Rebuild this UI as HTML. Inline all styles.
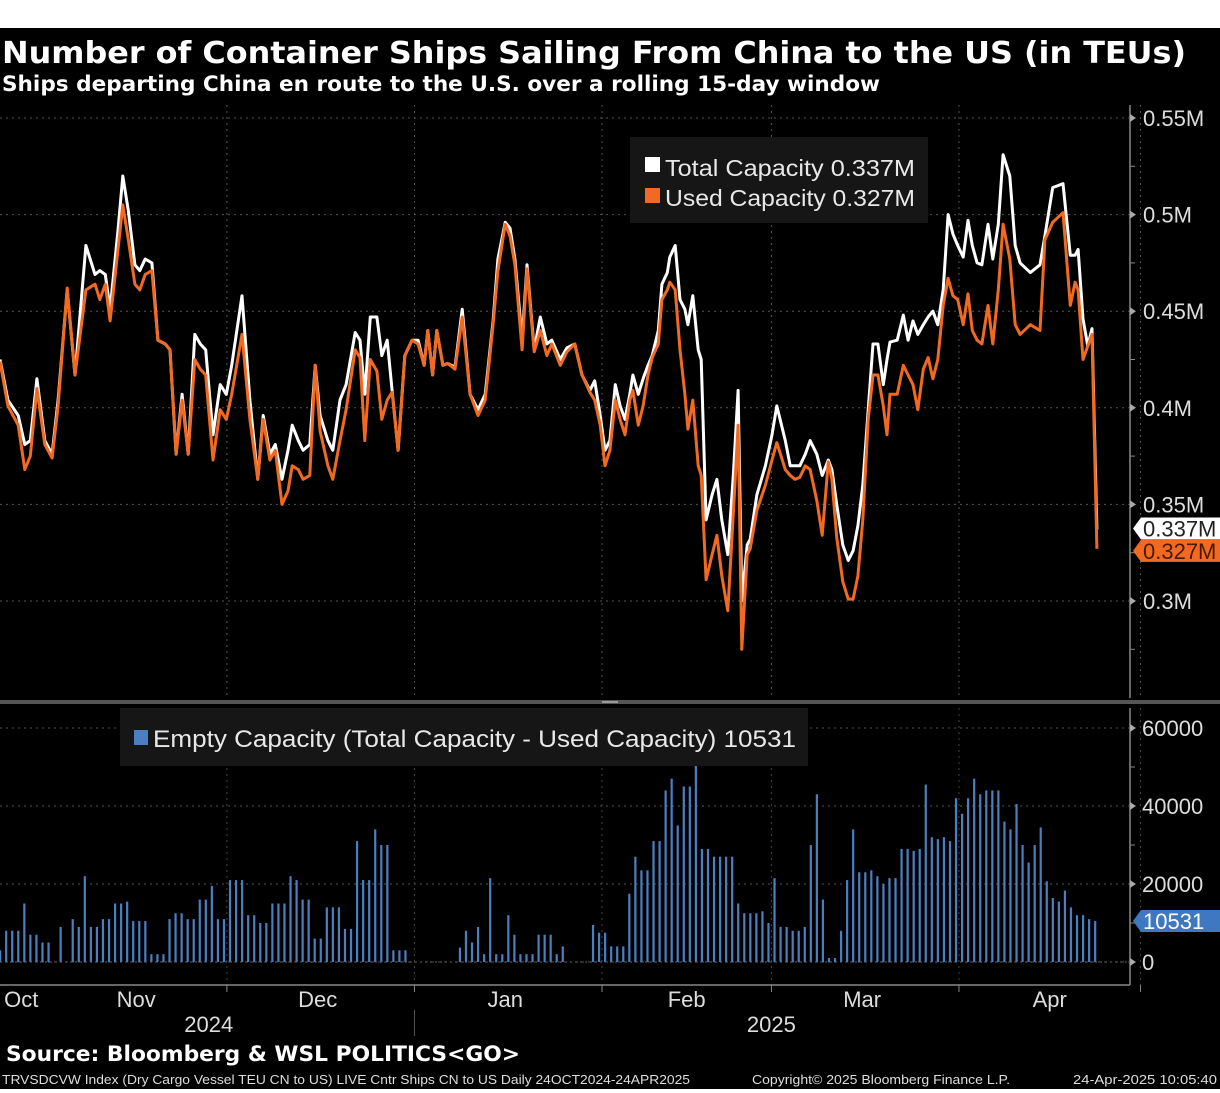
<!DOCTYPE html>
<html><head><meta charset="utf-8"><style>
html,body{margin:0;padding:0;background:#fff;}
svg{display:block;}
text{font-family:"Liberation Sans",sans-serif;}
.dv{font-family:"DejaVu Sans","Liberation Sans",sans-serif;}
</style></head><body>
<svg id="chart" width="1220" height="1093" xmlns="http://www.w3.org/2000/svg">
<rect x="0" y="0" width="1220" height="1093" fill="#fff"/>
<rect x="0" y="28" width="1220" height="1061" fill="#000"/>
<text class="dv" x="2" y="63" fill="#fff" font-size="30" font-weight="bold" textLength="1184" lengthAdjust="spacingAndGlyphs">Number of Container Ships Sailing From China to the US (in TEUs)</text>
<text class="dv" x="2" y="91" fill="#fff" font-size="21" font-weight="bold" textLength="878" lengthAdjust="spacingAndGlyphs">Ships departing China en route to the U.S. over a rolling 15-day window</text>
<g id="grid"></g>
<g id="bars"></g>
<g id="lines"></g>
<g id="axes"></g>
<rect x="630" y="137" width="298" height="86" fill="#161616"/>
<rect x="645" y="157" width="15" height="15" fill="#fff"/>
<text x="665" y="176" fill="#e8e8e8" font-size="23" textLength="250" lengthAdjust="spacingAndGlyphs">Total Capacity 0.337M</text>
<rect x="645" y="188" width="15" height="15" fill="#f26a21"/>
<text x="665" y="206" fill="#e8e8e8" font-size="23" textLength="250" lengthAdjust="spacingAndGlyphs">Used Capacity 0.327M</text>
<rect x="120" y="708" width="688" height="58" fill="#161616"/>
<rect x="134" y="730" width="14" height="15" fill="#4a7fc1"/>
<text x="153" y="747" fill="#e8e8e8" font-size="24" textLength="643" lengthAdjust="spacingAndGlyphs">Empty Capacity (Total Capacity - Used Capacity) 10531</text>
<text class="dv" x="6" y="1061" fill="#fff" font-size="21" font-weight="bold" textLength="514" lengthAdjust="spacingAndGlyphs">Source: Bloomberg &amp; WSL POLITICS&lt;GO&gt;</text>
<text x="2" y="1084" fill="#ddd" font-size="13" textLength="688" lengthAdjust="spacingAndGlyphs">TRVSDCVW Index (Dry Cargo Vessel TEU CN to US) LIVE Cntr Ships CN to US  Daily 24OCT2024-24APR2025</text>
<text x="752" y="1084" fill="#ddd" font-size="13" textLength="258" lengthAdjust="spacingAndGlyphs">Copyright© 2025 Bloomberg Finance L.P.</text>
<text x="1073" y="1084" fill="#ddd" font-size="13" textLength="144" lengthAdjust="spacingAndGlyphs">24-Apr-2025 10:05:40</text>
</svg>
<script>
// Day offsets from 24 Oct 2024
const lineDays=[0.5,1.8,3.5,4.6,5.5,6.6,7.9,9.1,10.1,11.6,12.9,14.7,16.2,17.0,17.9,18.7,20.0,20.8,21.7,22.8,23.6,24.5,25.6,26.6,27.8,28.6,29.6,30.6,31.6,32.7,33.6,34.5,35.7,36.9,37.9,38.8,40.5,41.8,43.1,44.0,45.1,46.0,47.1,48.1,48.8,49.8,50.6,51.7,52.6,53.4,54.7,55.5,56.7,57.7,59.2,60.0,60.8,61.7,62.8,63.6,64.5,65.3,66.3,67.4,68.6,69.6,70.6,71.2,72.0,72.7,73.7,74.5,75.7,76.9,78.2,79.5,80.7,82.0,82.8,84.0,84.8,85.6,86.8,87.6,88.8,89.8,90.9,91.7,93.1,94.2,95.5,96.7,98.0,98.8,99.7,100.5,101.3,102.2,103.0,103.8,104.6,105.1,106.0,106.8,107.6,108.3,109.3,109.9,110.8,111.2,112.1,112.9,113.7,114.2,115.0,115.9,116.4,117.2,118.2,119.0,119.8,120.8,121.7,122.5,123.1,124.0,124.5,125.6,127.0,128.1,128.9,130.3,131.1,131.9,132.7,133.6,134.4,135.5,136.4,137.4,138.0,138.8,139.8,140.7,141.5,142.3,143.1,144.0,144.8,145.6,146.5,147.1,147.6,148.8,149.8,150.6,151.4,152.2,153.1,153.9,154.7,155.5,156.4,157.2,158.0,158.8,159.7,160.5,161.2,162.0,162.8,163.8,164.6,165.5,166.3,167.4,168.3,169.1,170.8,172.4,173.2,174.5,176.2,177.4,178.2,178.7,179.5,180.3,181.0,181.8];
// Total capacity, thousand TEU
const totalCap=[425,404,396,381,383,415,383,376,404,461,417,484,469,471,469,451,492,520,502,474,471,477,475,435,433,430,376,407,376,438,433,430,386,412,407,422,458,404,363,396,376,381,363,378,391,383,378,381,422,396,383,378,404,412,439,435,407,447,447,427,435,409,378,427,435,435,422,440,417,440,422,423,421,451,407,399,407,445,477,496,493,477,435,474,430,447,433,435,425,431,433,417,409,414,396,378,383,412,401,394,407,417,407,415,422,427,440,464,470,478,484,456,451,443,458,430,425,342,355,363,342,324,365,409,300,329,332,355,370,386,401,383,370,370,370,376,383,376,365,373,368,350,329,321,326,339,360,399,433,433,412,425,434,435,448,435,445,438,443,447,450,443,461,500,490,484,478,497,484,475,474,495,477,495,531,520,484,475,470,474,489,514,516,479,479,482,446,432,441,337];
// Used capacity, thousand TEU
const usedCap=[424,401,391,368,375,410,381,374,401,462,417,461,464,456,464,445,482,505,487,464,461,469,471,435,433,430,376,404,376,425,420,417,373,399,394,407,438,394,363,394,373,378,350,357,370,368,363,365,422,388,370,363,383,399,430,426,383,425,419,394,404,408,378,427,435,433,422,440,417,440,422,423,420,447,407,396,404,443,471,495,489,474,430,472,429,440,427,433,422,429,433,417,408,404,391,370,378,404,394,386,404,409,391,401,417,426,433,456,461,465,461,430,407,389,404,370,365,311,324,334,313,295,345,391,275,324,327,347,360,373,382,368,365,363,364,370,368,352,334,372,363,333,310,301,301,313,342,394,417,417,401,386,407,407,422,417,412,399,420,426,415,425,453,467,458,456,443,459,440,435,433,453,433,461,495,477,443,438,443,440,487,496,501,453,465,461,425,432,438,327];
// Empty capacity per day (thousand TEU), day index i
const emptyCap=[3,8,8,8,15,7,7,5,5,0,9,0,11,9,22,9,9,11,11,15,15,15.5,10.5,10.5,10.5,2,2,2,11,12.5,12.5,11,11,16,16,19.5,11,11,21,21,21,12,12,10,10,15,15,15,22,21,16,16,6,6,14,14,14,8.5,8.5,31,21,21,34,30,30,3,3,3,0,0,0,0,0,0,0,0,3.7,8,5,9,2,21.5,2,2,12,7,2,2,2,7,7,7,2,4,0,0,0,0,9.5,7.5,7.5,4,4,4,17.5,27,23.5,23.5,31,31,44,47,35,45,45,53,29,29,27,27,27,27,15,12.5,12.5,12.5,13,10,21.5,9,9,8,8,9,30,43,16,1,1,8,21,34,23,23,23.5,22,20,21.5,21.5,29,29,28.5,29,45.5,32,31.5,32,31,42,38,42,47,43,44,44,44,36,34,40.5,30,25.5,30,34.5,20.7,16.4,15.5,18.3,14,12,12,11,10.5];
const upperTicks=[550,500,450,400,350,300];
const upperTickLabels=["0.55M","0.5M","0.45M","0.4M","0.35M","0.3M"];
const lowerTicks=[60,40,20,0];
const lowerTickLabels=["60000","40000","20000","0"];
const monthStarts=[8,38,69,100,128,159,189];
const monthLabels=["Oct","Nov","Dec","Jan","Feb","Mar","Apr"];
const monthLabelDays=[4,23,53,84,114,143,174];
const yearLabels=["2024","2025"];
const yearLabelDays=[35,128];
const lastTotal="0.337M", lastUsed="0.327M", lastEmpty="10531";

const NS="http://www.w3.org/2000/svg";
function mk(tag,attrs,parent){const e=document.createElementNS(NS,tag);for(const k in attrs)e.setAttribute(k,attrs[k]);parent.appendChild(e);return e;}
const X=d=>-3+6.05*d;
const Yu=v=>118+(550-v)*1.932;
const Yl=v=>962-v*3.9;
const PR=1130;
const grid=document.getElementById('grid'),bars=document.getElementById('bars'),lines=document.getElementById('lines'),axes=document.getElementById('axes');

upperTicks.forEach(v=>{const l=mk('line',{x1:0,x2:PR,y1:Yu(v),y2:Yu(v),stroke:'#555','stroke-dasharray':'2,4','stroke-width':1},grid);

});
lowerTicks.forEach(v=>{const l=mk('line',{x1:0,x2:PR,y1:Yl(v),y2:Yl(v),stroke:'#555','stroke-dasharray':'2,4','stroke-width':1},grid);

});
monthStarts.slice(1).forEach(d=>{const x=X(d);
const a=mk('line',{x1:x,x2:x,y1:105,y2:698,stroke:'#555','stroke-dasharray':'2,4'},grid);


const b=mk('line',{x1:x,x2:x,y1:708,y2:985,stroke:'#444','stroke-dasharray':'2,4'},grid);

});

emptyCap.forEach((v,i)=>{if(v<=0)return;const x=X(i+0.5);
const r=mk('rect',{x:x-1,y:Yl(v),width:2.2,height:Yl(0)-Yl(v),fill:'#4a7fc1'},bars);

});
mk('line',{x1:0,x2:PR,y1:Yl(0),y2:Yl(0),stroke:'#666','stroke-width':1,'stroke-dasharray':'2,3'},bars);

function pathOf(vals){return vals.map((v,i)=>(i?'L':'M')+X(lineDays[i]).toFixed(1)+','+Yu(v).toFixed(1)).join('');}
const pw=mk('path',{d:pathOf(totalCap),fill:'none',stroke:'#fff','stroke-width':3,'stroke-linejoin':'round'},lines);


const po=mk('path',{d:pathOf(usedCap),fill:'none',stroke:'#f26a21','stroke-width':3,'stroke-linejoin':'round'},lines);



// axes
mk('line',{x1:PR,x2:PR,y1:105,y2:698,stroke:'#888','stroke-width':1.5},axes);
mk('line',{x1:PR,x2:PR,y1:708,y2:985,stroke:'#888','stroke-width':1.5},axes);
mk('rect',{x:0,y:700,width:1220,height:4,fill:'#555'},axes);
mk('rect',{x:602,y:701,width:16,height:2,fill:'#999'},axes);
mk('line',{x1:0,x2:PR,y1:985,y2:985,stroke:'#888','stroke-width':1.5},axes);
upperTicks.forEach((v,i)=>{const y=Yu(v);
mk('path',{d:`M${PR},${y-4}L${PR+6},${y}L${PR},${y+4}Z`,fill:'#aaa'},axes);
const t=mk('text',{x:1143,y:y+8,fill:'#ddd','font-size':22},axes);t.textContent=upperTickLabels[i];


mk('line',{x1:PR,x2:PR+5,y1:Yu(v-25),y2:Yu(v-25),stroke:'#888'},axes);});
lowerTicks.forEach((v,i)=>{const y=Yl(v);
mk('path',{d:`M${PR},${y-4}L${PR+6},${y}L${PR},${y+4}Z`,fill:'#aaa'},axes);
const t=mk('text',{x:1142,y:y+8,fill:'#ddd','font-size':22},axes);t.textContent=lowerTickLabels[i];


if(v>0)mk('line',{x1:PR,x2:PR+5,y1:Yl(v-10),y2:Yl(v-10),stroke:'#888'},axes);});
monthStarts.slice(1).forEach(d=>{mk('line',{x1:X(d),x2:X(d),y1:985,y2:992,stroke:'#888'},axes);});
monthLabels.forEach((m,i)=>{const t=mk('text',{x:X(monthLabelDays[i]),y:1007,fill:'#ddd','font-size':22,'text-anchor':'middle'},axes);t.textContent=m;

});
yearLabels.forEach((m,i)=>{const t=mk('text',{x:X(yearLabelDays[i]),y:1032,fill:'#ddd','font-size':22,'text-anchor':'middle'},axes);t.textContent=m;

});
mk('line',{x1:X(monthStarts[2]),x2:X(monthStarts[2]),y1:1010,y2:1036,stroke:'#555'},axes);

// last value tags
function tag(y,bg,fg,txt,name){const g=mk('g',{},axes);


mk('path',{d:`M1133,${y}L1141,${y-11}L1220,${y-11}L1220,${y+11}L1141,${y+11}Z`,fill:bg},g);
const t=mk('text',{x:1143,y:y+8,fill:fg,'font-size':22},g);t.textContent=txt;}
tag(Yu(usedCap[usedCap.length-1])+2,'#f26a21','#4a1a00',lastUsed,'used-capacity-last-tag');
tag(Yu(totalCap[totalCap.length-1])-1,'#fff','#222',lastTotal,'total-capacity-last-tag');
tag(Yl(emptyCap[emptyCap.length-1])+0,'#3d78c0','#fff',lastEmpty,'empty-capacity-last-tag');
</script>
</body></html>
